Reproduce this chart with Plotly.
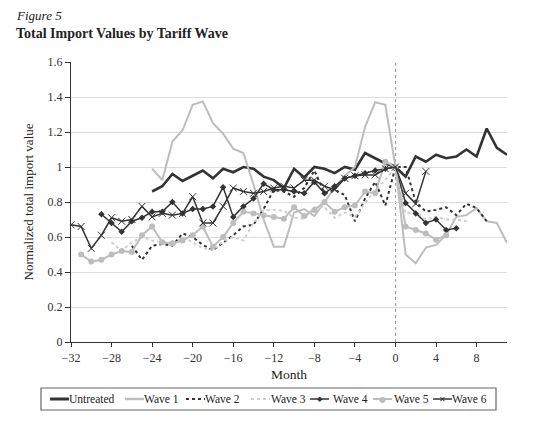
import plotly.graph_objects as go

FONT = "Liberation Serif"
DARK = "#333333"
LIGHT = "#bdbdbd"
LIGHTER = "#cfcfcf"

untreated_months = list(range(-24, 12))
untreated = [0.86, 0.89, 0.96, 0.92, 0.95, 0.98, 0.935, 0.99, 0.97, 1.0, 0.99, 0.945,
             0.925, 0.88, 0.99, 0.94, 1.0, 0.99, 0.965, 1.0, 0.985, 1.08, 1.05, 1.02,
             1.0, 0.945, 1.06, 1.03, 1.07, 1.05, 1.06, 1.10, 1.06, 1.22, 1.11, 1.07]

wave1_months = list(range(-24, 12))
wave1 = [0.99, 0.925, 1.145, 1.21, 1.355, 1.375, 1.25, 1.19, 1.105, 1.08, 0.90, 0.70,
         0.545, 0.545, 0.74, 0.76, 0.72, 0.80, 0.88, 0.95, 1.0, 1.23, 1.37, 1.355,
         1.0, 0.50, 0.45, 0.54, 0.555, 0.61, 0.715, 0.725, 0.765, 0.69, 0.68, 0.565]

wave2_months = list(range(-26, 10))
wave2 = [0.55, 0.47, 0.55, 0.56, 0.55, 0.62, 0.60, 0.555, 0.525, 0.565, 0.61, 0.66,
         0.67, 0.76, 0.87, 0.86, 0.83, 0.88, 0.98, 0.85, 0.87, 0.84, 0.69, 0.82,
         0.915, 0.78, 1.0, 1.0, 0.80, 0.745, 0.755, 0.77, 0.725, 0.79, 0.765, 0.69]

wave3_months = list(range(-28, 8))
wave3 = [0.57, 0.52, 0.57, 0.60, 0.58, 0.57, 0.55, 0.60, 0.57, 0.535, 0.525, 0.575,
         0.60, 0.58, 0.68, 0.755, 0.755, 0.75, 0.71, 0.705, 0.77, 0.77, 0.71, 0.74,
         0.715, 0.79, 0.87, 0.925, 1.0, 0.735, 0.745, 0.70, 0.715, 0.70, 0.70, 0.69]

wave4_months = list(range(-29, 7))
wave4 = [0.73, 0.68, 0.63, 0.69, 0.71, 0.745, 0.745, 0.80, 0.735, 0.76, 0.76, 0.775,
         0.885, 0.715, 0.775, 0.82, 0.905, 0.87, 0.87, 0.86, 0.85, 0.915, 0.85, 0.89,
         0.935, 0.95, 0.965, 0.98, 0.99, 1.0, 0.795, 0.735, 0.68, 0.70, 0.64, 0.65]

wave5_months = list(range(-31, 6))
wave5 = [0.50, 0.46, 0.47, 0.50, 0.52, 0.515, 0.61, 0.66, 0.57, 0.565, 0.58, 0.61,
         0.66, 0.545, 0.60, 0.68, 0.745, 0.735, 0.725, 0.715, 0.705, 0.77, 0.72, 0.755,
         0.80, 0.745, 0.77, 0.78, 0.86, 0.85, 1.03, 1.0, 0.66, 0.64, 0.62, 0.585, 0.61]

wave6_months = list(range(-32, 4))
wave6 = [0.67, 0.66, 0.535, 0.61, 0.71, 0.69, 0.70, 0.775, 0.715, 0.735, 0.725, 0.735,
         0.83, 0.68, 0.68, 0.775, 0.88, 0.86, 0.85, 0.86, 0.88, 0.89, 0.88, 0.925,
         0.925, 0.89, 0.87, 0.935, 0.95, 0.955, 0.955, 0.99, 1.0, 0.85, 0.79, 0.975]

x_ticks = list(range(-32, 9, 4))
y_ticks = [0, 0.2, 0.4, 0.6, 0.8, 1, 1.2, 1.4, 1.6]
legend_names = ["Untreated", "Wave 1", "Wave 2", "Wave 3", "Wave 4", "Wave 5", "Wave 6"]

# plot area in page pixels (page body has an 8px margin)
PL, PR, PT, PB = 71, 507, 62, 342


def px_x(x):
    return (x - PL) / (PR - PL)


def px_y(y):
    return (PB - y) / (PB - PT)


fig = go.Figure()
fig.add_trace(go.Scatter(x=untreated_months, y=untreated, name="Untreated", mode="lines",
                         line=dict(color=DARK, width=2.6)))
fig.add_trace(go.Scatter(x=wave1_months, y=wave1, name="Wave 1", mode="lines",
                         line=dict(color=LIGHT, width=2)))
fig.add_trace(go.Scatter(x=wave2_months, y=wave2, name="Wave 2", mode="lines",
                         line=dict(color=DARK, width=2, dash="dot")))
fig.add_trace(go.Scatter(x=wave3_months, y=wave3, name="Wave 3", mode="lines",
                         line=dict(color=LIGHTER, width=2, dash="dot")))
fig.add_trace(go.Scatter(x=wave4_months, y=wave4, name="Wave 4", mode="lines+markers",
                         line=dict(color=DARK, width=1.5),
                         marker=dict(symbol="diamond", size=5, color=DARK)))
fig.add_trace(go.Scatter(x=wave5_months, y=wave5, name="Wave 5", mode="lines+markers",
                         line=dict(color=LIGHT, width=2),
                         marker=dict(symbol="circle", size=6, color=LIGHT)))
fig.add_trace(go.Scatter(x=wave6_months, y=wave6, name="Wave 6", mode="lines+markers",
                         line=dict(color=DARK, width=1.5),
                         marker=dict(symbol="x-thin-open", size=7, line=dict(color=DARK, width=1))))

fig.add_shape(type="line", x0=0, x1=0, y0=0, y1=1.6, xref="x", yref="y",
              line=dict(color="#999999", width=1, dash="dot"), layer="below")

# compact boxed legend, drawn by hand (plotly's own keys are too wide for one row)
leg_y = 399
key_start = [50, 125, 186, 251, 310, 373, 433]
key_len = 19
text_gap = [0, 0, 0, 1, 4, 2, 0]
key_style = [
    dict(color=DARK, width=3),
    dict(color=LIGHT, width=2.5),
    dict(color=DARK, width=2, dash="dot"),
    dict(color=LIGHTER, width=2, dash="dot"),
    dict(color=DARK, width=1.5),
    dict(color=LIGHT, width=2),
    dict(color=DARK, width=1.5),
]
key_glyph = [None, None, None, None, ("◆", DARK, 7), ("●", LIGHT, 8), ("✕", DARK, 8)]

fig.add_shape(type="rect", xref="paper", yref="paper",
              x0=px_x(41), x1=px_x(496), y0=px_y(410), y1=px_y(388),
              line=dict(color="#666666", width=1.2), fillcolor="white")
annotations = []
for name, start, gap, style, glyph in zip(legend_names, key_start, text_gap, key_style, key_glyph):
    fig.add_shape(type="line", xref="paper", yref="paper",
                  x0=px_x(start), x1=px_x(start + key_len), y0=px_y(leg_y), y1=px_y(leg_y),
                  line=style)
    if glyph:
        sym, col, size = glyph
        annotations.append(dict(text=sym, xref="paper", yref="paper",
                                x=px_x(start + key_len / 2), y=px_y(leg_y),
                                xanchor="center", yanchor="middle", showarrow=False,
                                font=dict(family="DejaVu Sans", size=size, color=col)))
    annotations.append(dict(text=name, xref="paper", yref="paper",
                            x=px_x(start + key_len + gap), y=px_y(leg_y),
                            xanchor="left", yanchor="middle", showarrow=False, xshift=-2,
                            font=dict(family=FONT, size=11.5, color="#222222")))

annotations += [
    dict(text="<i>Figure 5</i>", xref="paper", yref="paper", x=px_x(14), y=px_y(16),
         xanchor="left", yanchor="middle", showarrow=False,
         font=dict(family=FONT, size=13, color="#222222")),
    dict(text="<b>Total Import Values by Tariff Wave</b>", xref="paper", yref="paper",
         x=px_x(14), y=px_y(34), xanchor="left", yanchor="middle", showarrow=False,
         font=dict(family=FONT, size=14, color="#222222")),
]

fig.update_layout(
    width=527,
    height=424,
    paper_bgcolor="white",
    plot_bgcolor="white",
    font=dict(family=FONT, size=12, color="#333333"),
    margin=dict(l=PL - 8, r=535 - PR, t=PT - 8, b=432 - PB),
    showlegend=False,
    annotations=annotations,
)
fig.update_xaxes(
    range=[-32, 11],
    tickvals=x_ticks,
    ticks="outside",
    ticklen=4,
    tickcolor="#333333",
    showline=True,
    linecolor="#333333",
    linewidth=1.2,
    showgrid=False,
    zeroline=False,
    automargin=False,
    title=dict(text="Month", font=dict(family=FONT, size=13.5, color="#222222"), standoff=6),
)
fig.update_yaxes(
    range=[0, 1.6],
    tickvals=y_ticks,
    ticktext=[str(v) for v in y_ticks],
    ticks="outside",
    ticklen=5,
    tickcolor="#333333",
    showline=True,
    linecolor="#333333",
    linewidth=1.2,
    gridcolor="#dddddd",
    zeroline=False,
    automargin=False,
    title=dict(text="Normalized total import value", font=dict(family=FONT, size=13, color="#222222"),
               standoff=10),
)

fig.write_html("out.html")
